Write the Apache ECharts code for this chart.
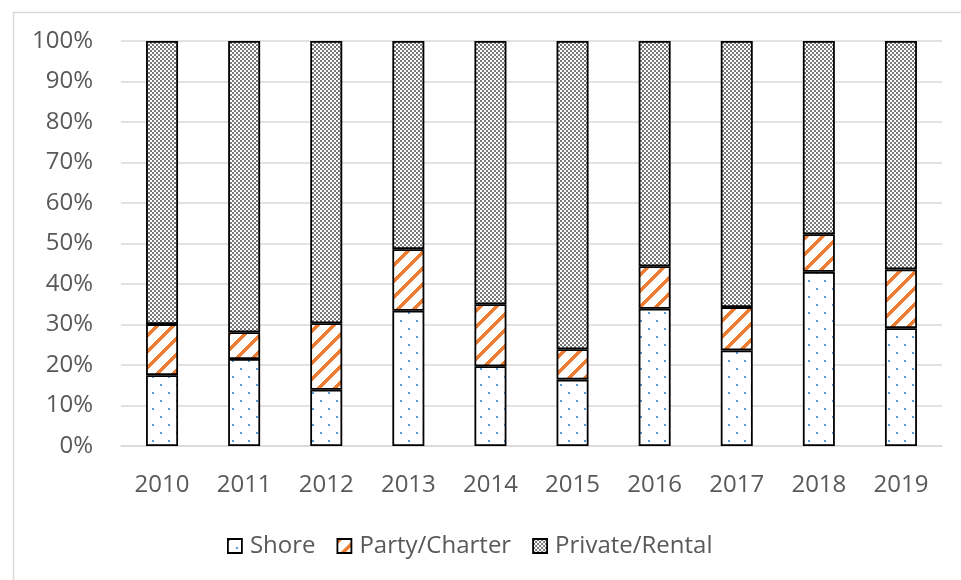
<!DOCTYPE html>
<html>
<head>
<meta charset="utf-8">
<script src="https://cdn.jsdelivr.net/npm/echarts@6/dist/echarts.min.js"></script>
<style>
  html, body { margin: 0; padding: 0; background: #fff; }
  #chart { width: 961px; height: 580px; }
</style>
</head>
<body>
<div id="chart"></div>
<script>
// values (percent of trips)
const years = ['2010', '2011', '2012', '2013', '2014', '2015', '2016', '2017', '2018', '2019'];
const shore = [17.5, 21.5, 13.9, 33.4, 19.7, 16.4, 33.9, 23.6, 43.0, 29.1];
const partyCharter = [12.6, 6.6, 16.4, 15.2, 15.3, 7.5, 10.5, 10.7, 9.3, 14.5];
const privateRental = [69.9, 71.9, 69.7, 51.4, 65.0, 76.1, 55.6, 65.7, 47.7, 56.4];

// small pixel tiles used as fill patterns (like the Excel pattern fills)
function makeTile(size, test) {
  const c = document.createElement('canvas');
  c.width = size; c.height = size;
  const ctx = c.getContext('2d');
  const img = ctx.createImageData(size, size);
  for (let y = 0; y < size; y++) {
    for (let x = 0; x < size; x++) {
      const col = test(x, y) || [255, 255, 255];
      const i = (y * size + x) * 4;
      img.data[i] = col[0]; img.data[i + 1] = col[1]; img.data[i + 2] = col[2]; img.data[i + 3] = 255;
    }
  }
  ctx.putImageData(img, 0, 0);
  return c;
}

const blue = [91, 155, 213];
const orange = [237, 125, 49];
const grey = [120, 120, 120];

const dots = makeTile(16, (x, y) => {
  if (x < 2 && y < 2) return blue;
  if (x >= 8 && x < 10 && y >= 8 && y < 10) return blue;
  return null;
});
const stripes = makeTile(16, (x, y) => ((x + y) % 16) < 5 ? orange : null);
const checker = makeTile(4, (x, y) => ((x >> 1) + (y >> 1)) % 2 === 0 ? grey : null);

const chart = echarts.init(document.getElementById('chart'), null, { renderer: 'canvas' });

const font = '"Open Sans", "Noto Sans", sans-serif';
const border = { borderColor: '#000', borderWidth: 1.8 };

function bar(name, data, tile) {
  return {
    name: name,
    type: 'bar',
    stack: 'total',
    barWidth: 32,
    data: data,
    itemStyle: Object.assign({ color: { image: tile, repeat: 'repeat' } }, border)
  };
}

chart.setOption({
  animation: false,
  graphic: [{
    type: 'rect',
    left: 11, top: 10,
    shape: { width: 1000, height: 1000 },
    style: { fill: 'none', stroke: '#d9d9d9', lineWidth: 1.5 },
    silent: true
  }],
  grid: { left: 121, right: 19, top: 41, bottom: 134 },
  legend: {
    bottom: 17,
    left: 222,
    icon: 'rect',
    itemWidth: 14,
    itemHeight: 14,
    itemGap: 21,
    itemStyle: { borderColor: '#000', borderWidth: 1.8 },
    textStyle: { fontFamily: font, fontSize: 24, color: '#595959', padding: [0, 0, 0, 3] },
    data: ['Shore', 'Party/Charter', 'Private/Rental']
  },
  xAxis: {
    type: 'category',
    data: years,
    axisLine: { lineStyle: { color: '#d9d9d9', width: 1.5 } },
    axisTick: { show: false },
    axisLabel: { fontFamily: font, fontSize: 24, color: '#595959', margin: 27 }
  },
  yAxis: {
    type: 'value',
    min: 0, max: 100, interval: 10,
    axisLine: { show: false },
    axisTick: { show: false },
    splitLine: { lineStyle: { color: '#d9d9d9', width: 1.5 } },
    axisLabel: { formatter: '{value}%', fontFamily: font, fontSize: 24, color: '#595959', margin: 28 }
  },
  series: [
    bar('Shore', shore, dots),
    bar('Party/Charter', partyCharter, stripes),
    bar('Private/Rental', privateRental, checker)
  ]
});
</script>
</body>
</html>
